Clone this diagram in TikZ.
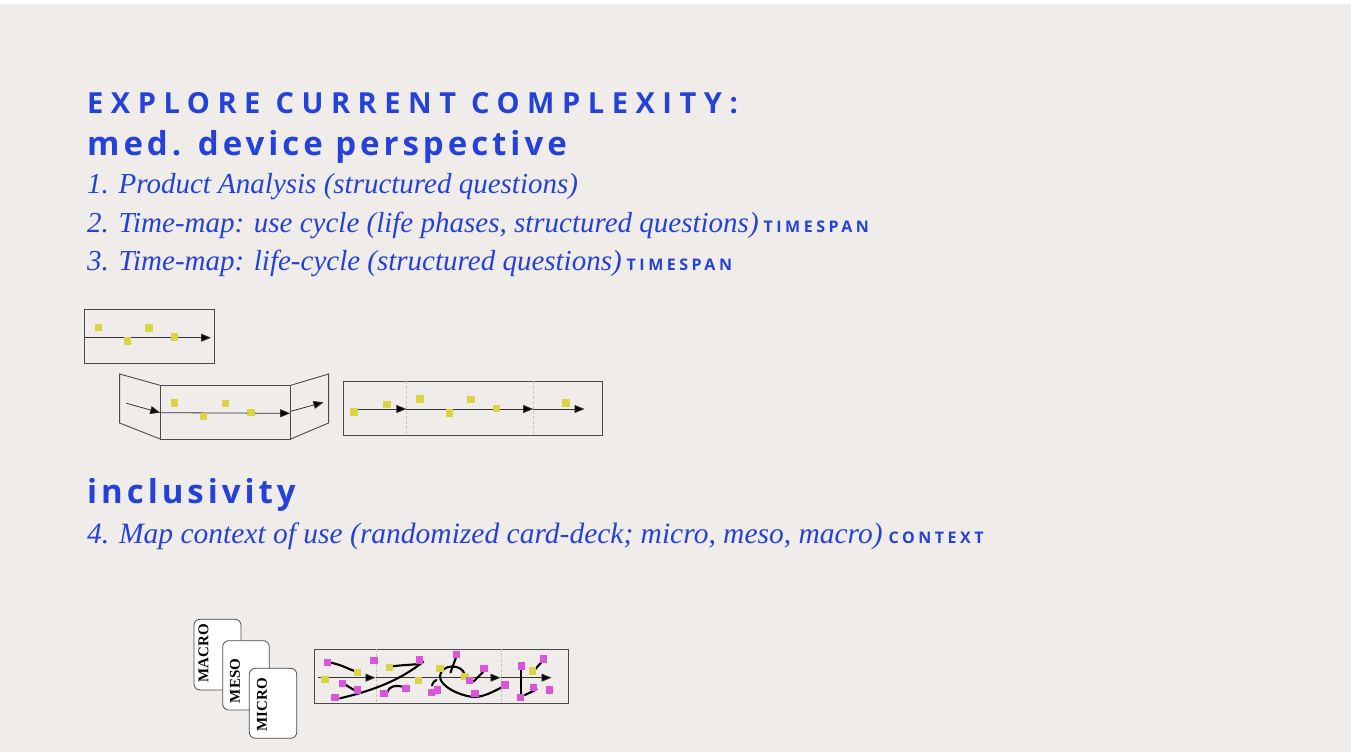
\documentclass[tikz,border=0pt]{standalone}
\usepackage{fontspec}
\usetikzlibrary{arrows.meta}
\setmainfont{Liberation Serif}
\newfontfamily\headfont[LetterSpace=26]{Open Sans}
\newfontfamily\subfont[LetterSpace=12]{Open Sans}
\newfontfamily\tagfont[LetterSpace=22]{Open Sans}
\newfontfamily\bodyfont{Liberation Serif}
\newfontfamily\cardfont{Liberation Serif}

\definecolor{paper}{HTML}{F0ECE9}
\definecolor{ink}{HTML}{2442D9}
\definecolor{frame}{HTML}{4A4A4A}
\definecolor{ysq}{HTML}{D8D444}
\definecolor{msq}{HTML}{D955D9}
\definecolor{sep}{HTML}{C8C4C2}

\tikzset{
  head/.style={anchor=base west, inner sep=0pt, text=ink, font=\headfont\bfseries\fontsize{29}{32}\selectfont},
  subhead/.style={anchor=base west, inner sep=0pt, text=ink, font=\subfont\bfseries\fontsize{33}{38}\selectfont},
  item/.style={anchor=base west, inner sep=0pt, text=ink, font=\bodyfont\itshape\fontsize{29}{32}\selectfont},
  yel/.style={fill=ysq, draw=none, minimum size=7.5pt, inner sep=0pt},
  mag/.style={fill=msq, draw=none, minimum size=7.5pt, inner sep=0pt},
  boxline/.style={draw=frame, line width=0.9pt},
  flow/.style={draw=black!80, line width=0.8pt, -{Triangle[length=10pt,width=8pt,fill=black]}},
  divider/.style={draw=sep, line width=0.6pt, dash pattern=on 3pt off 2pt},
  path/.style={draw=black, line width=2.1pt, line cap=round},
  card/.style={draw=frame, fill=white, line width=0.8pt, rounded corners=6pt},
  cardtext/.style={rotate=90, inner sep=0pt, font=\cardfont\bfseries\fontsize{15}{15}\selectfont}
}
\newcommand{\tagword}[1]{{\tagfont\upshape\bfseries\fontsize{16}{16}\selectfont #1}}

\begin{document}
\begin{tikzpicture}[x=1pt,y=-1pt]
% page and background
\useasboundingbox (0,0) rectangle (1354,752);
\fill[white] (0,0) rectangle (1354,752);
\fill[paper] (0,4) rectangle (1351,752);

% headings and items
\node[head] (t1) at (87,113.3) {EXPLORE CURRENT COMPLEXITY:};
\node[subhead] (t2) at (87,155) {med. device perspective};
\node[item] (i1) at (87,193) {1. Product Analysis (structured questions)};
\node[item] (i2) at (87,232) {2. Time-map: use cycle (life phases, structured questions)\hspace{5pt}\tagword{TIMESPAN}};
\node[item] (i3) at (87,270) {3. Time-map: life-cycle (structured questions)\hspace{5pt}\tagword{TIMESPAN}};
\node[subhead] (t3) at (87,503) {inclusivity};
\node[item, font=\bodyfont\itshape\fontsize{29.5}{32}\selectfont] (i4) at (87,543) {4. Map context of use (randomized card-deck; micro, meso, macro)\hspace{6pt}\tagword{CONTEXT}};

% --- single timeline
\draw[boxline] (84.5,309.3) rectangle (214,363.3);
\coordinate (a1s) at (84.5,337.7);
\coordinate (a1e) at (211,337.7);
\draw[flow] (a1s) -- (a1e);
\node[yel] (s11) at (98.3,327.3) {};
\node[yel] (s12) at (127.5,341) {};
\node[yel] (s13) at (149.2,328) {};
\node[yel] (s14) at (174.7,337) {};

% --- folded timeline
\draw[boxline] (160.2,385.3) -- (119.6,374) -- (119.6,423) -- (160.2,439);
\draw[boxline] (160.2,385.3) rectangle (290.7,439);
\draw[boxline] (290.7,385.3) -- (328.6,374) -- (328.6,423) -- (290.7,439);
\coordinate (b1s) at (126.5,403.3);
\coordinate (b1e) at (160.2,412.7);
\coordinate (b2e) at (290.2,413.3);
\coordinate (b3s) at (290.7,411.3);
\coordinate (b3e) at (323.5,402.3);
\draw[flow] (b1s) -- (b1e);
\draw[flow] (b1e) -- (b2e);
\draw[flow] (b3s) -- (b3e);
\node[yel] (s21) at (174.4,403) {};
\node[yel] (s22) at (203.6,416.7) {};
\node[yel] (s23) at (225.7,403.7) {};
\node[yel] (s24) at (250.8,412.7) {};

% --- phased timeline
\draw[boxline] (343.4,381.3) rectangle (602.7,435.3);
\draw[divider] (406.4,381.3) -- (406.4,435.3);
\draw[divider] (533.2,381.3) -- (533.2,435.3);
\coordinate (c0) at (354,409);
\coordinate (c1) at (406.4,409);
\coordinate (c2) at (533.2,409);
\coordinate (c3) at (584.5,409);
\draw[flow] (c0) -- (c1);
\draw[flow] (c1) -- (c2);
\draw[flow] (c2) -- (c3);
\node[yel] (s31) at (353.8,412) {};
\node[yel] (s32) at (386.8,404.3) {};
\node[yel] (s33) at (420.2,399) {};
\node[yel] (s34) at (449.5,413) {};
\node[yel] (s35) at (471.2,399.7) {};
\node[yel] (s36) at (496.7,408.7) {};
\node[yel] (s37) at (565.9,403) {};

% --- card deck
\draw[card] (194,619.3) rectangle (241,690);
\node[cardtext] (macro) at (203.5,653) {MACRO};
\draw[card] (222.7,640.7) rectangle (269.3,710);
\node[cardtext] (meso) at (235,681) {MESO};
\draw[card] (249.3,668.3) rectangle (296.7,738.3);
\node[cardtext] (micro) at (262,704.5) {MICRO};

% --- context map
\draw[boxline, line width=0.7pt] (314.3,649.3) rectangle (568.3,703.3);
\draw[divider] (376.7,649.3) -- (376.7,703.3);
\draw[divider] (501.7,649.3) -- (501.7,703.3);
\coordinate (d0) at (318,677.7);
\coordinate (d1) at (375.5,677.7);
\coordinate (d2) at (500.5,677.7);
\coordinate (d3) at (551.5,677.7);
\draw[flow] (d0) -- (d1);
\draw[flow] (d1) -- (d2);
\draw[flow] (d2) -- (d3);

% connecting strokes
\draw[path] (330,662.5) .. controls (343,665) and (350,670) .. (356,671.5);
\draw[path] (343.5,683.5) -- (356.5,691.5);
\draw[path] (340,698.3) .. controls (375,690) and (400,680) .. (423.3,661.7);
\draw[path] (391.5,666.5) .. controls (405,664.5) and (414,665) .. (420.5,663.5);
\draw[path] (387,692.5) .. controls (389,686) and (396,685) .. (401.5,686.5);
\draw[path] (432,685.5) .. controls (433,682) and (435,680.5) .. (436.5,680);
\draw[path] (456.7,655.5) -- (450.5,672.5);
\draw[path] (465,675) .. controls (462,663) and (441,664) .. (440,676)
  .. controls (439,686) and (460,696) .. (474,697)
  .. controls (486,697) and (497,689) .. (505,686);
\draw[path] (473.3,681.7) -- (483.3,671.7);
\draw[path] (520.7,668.3) -- (520.7,696.7);
\draw[path] (531.7,673.3) -- (543.3,660);
\draw[path] (525,695) -- (536.7,689.3);

% cards of the map
\node[yel] (y1) at (325,679.3) {};
\node[yel] (y2) at (357.3,672.3) {};
\node[yel] (y3) at (389.3,667.3) {};
\node[yel] (y4) at (418.7,680.7) {};
\node[yel] (y5) at (440,668.3) {};
\node[yel] (y6) at (465,676.7) {};
\node[yel] (y7) at (532.3,671) {};
\node[mag] (m1) at (327.3,662.7) {};
\node[mag] (m2) at (374,660.7) {};
\node[mag] (m3) at (342.7,683.3) {};
\node[mag] (m4) at (357.7,690) {};
\node[mag] (m5) at (335,697.3) {};
\node[mag] (m6) at (419.3,660) {};
\node[mag] (m7) at (384,693.3) {};
\node[mag] (m8) at (406,688.3) {};
\node[mag] (m9) at (456.7,654.3) {};
\node[mag] (m10) at (484,668.3) {};
\node[mag] (m11) at (469.3,680.7) {};
\node[mag] (m12) at (431.7,692.7) {};
\node[mag] (m13) at (437.7,690) {};
\node[mag] (m14) at (475,693.3) {};
\node[mag] (m15) at (505,685) {};
\node[mag] (m16) at (521.7,666) {};
\node[mag] (m17) at (543.3,659) {};
\node[mag] (m18) at (533.3,687.7) {};
\node[mag] (m19) at (520.7,697.3) {};
\node[mag] (m20) at (549.3,690) {};
\end{tikzpicture}
\end{document}
